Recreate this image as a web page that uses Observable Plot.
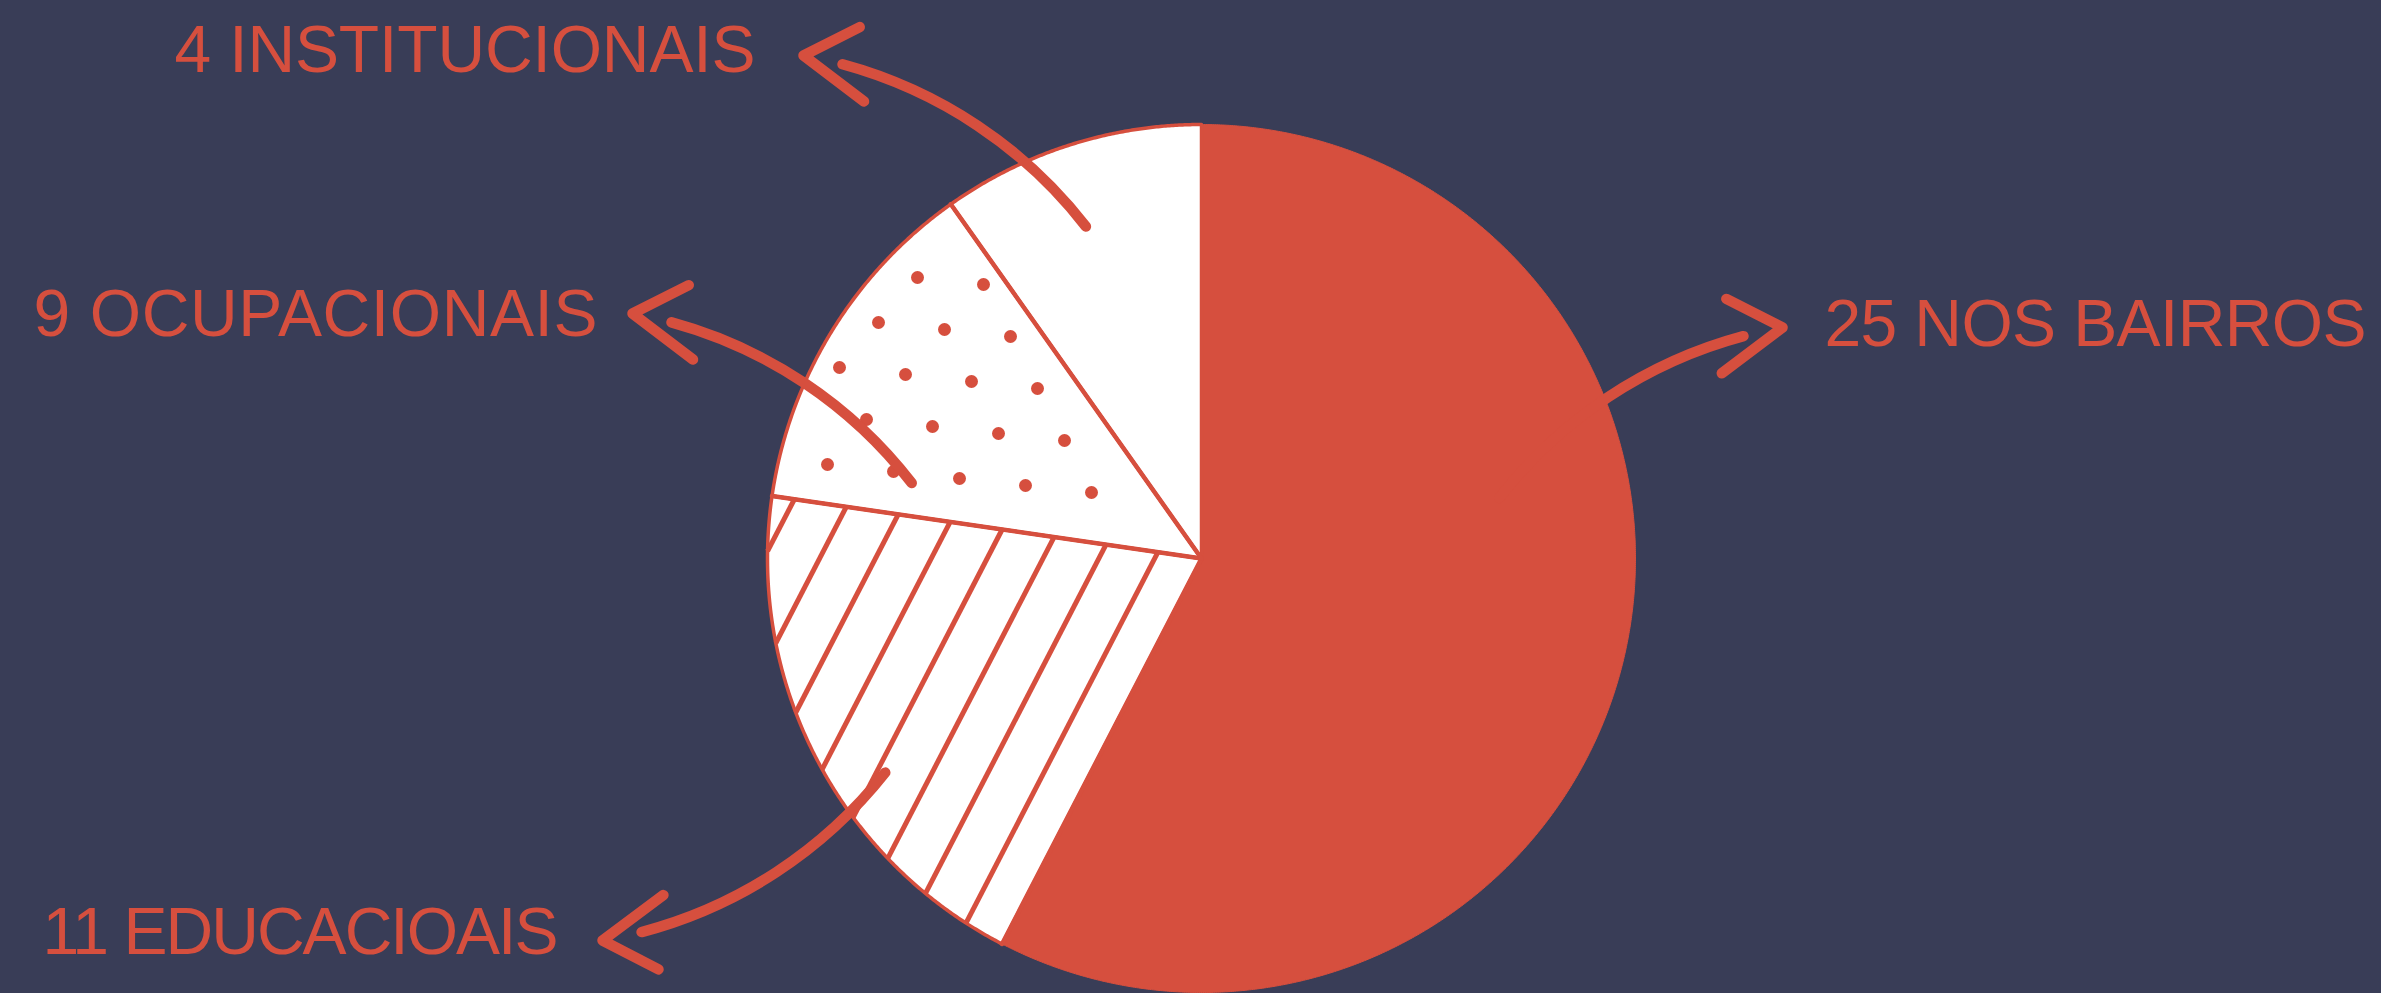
<!DOCTYPE html>
<html>
<head>
<meta charset="utf-8">
<script src="https://cdn.jsdelivr.net/npm/d3@7"></script>
<script src="https://cdn.jsdelivr.net/npm/@observablehq/plot@0.6"></script>
<style>
  html, body { margin: 0; padding: 0; background: #393D57; overflow: hidden; }
  #chart svg { display: block; }
</style>
</head>
<body>
<div id="chart"></div>
<script>
// ---------------- data ----------------
const categories = ["NOS BAIRROS", "EDUCACIOAIS", "OCUPACIONAIS", "INSTITUCIONAIS"];
const counts = [25, 11, 9, 4];
// share of the disc each slice takes in the drawing (%)
const shares = [57.6, 19.7, 12.9, 9.8];

// ---------------- layout & style ----------------
const W = 2381, H = 993;
const RED = "#D64F3E", BG = "#393D57", WHITE = "#FFFFFF";
const pie = {cx: 1201, cy: 558, r: 434};
const labelPos = [
  {x: 1824, y: 345, w: 542},
  {x: 42, y: 953, w: 516},
  {x: 33, y: 335, w: 564},
  {x: 174, y: 71, w: 581}
];
const arrowPos = [
  {tailAngle: 78.5, tailR: 0.70, tip: [1782, 327], bend: 21},
  {tailAngle: 235.9, tailR: 0.88, tip: [602, 940], bend: 21},
  {tailAngle: 284.6, tailR: 0.69, tip: [632, 313], bend: -21},
  {tailAngle: 340.8, tailR: 0.81, tip: [803, 55], bend: -21}
];
const headTurn = 26, wingHalf = 32, wingLong = 76, wingShort = 63, headGap = 40;
const stripeStart = 41.6, stripeGap = 49.6;
const dotOrigin = [-374, -94], dotA = [66, 7], dotB = [27, 52];

// ---------------- geometry ----------------
const R = pie.r;
const dir = a => [Math.sin(a), -Math.cos(a)];
const dot2 = (p, q) => p[0] * q[0] + p[1] * q[1];
const arcs = d3.pie().sort(null).value(d => d)(shares);

const slices = arcs.map((a, i) => {
  const pts = [{x: pie.cx, y: pie.cy}];
  const n = Math.ceil((a.endAngle - a.startAngle) / (Math.PI / 720));
  for (let j = 0; j <= n; ++j) {
    const t = a.startAngle + (a.endAngle - a.startAngle) * j / n;
    const [dx, dy] = dir(t);
    pts.push({x: pie.cx + R * dx, y: pie.cy + R * dy});
  }
  pts.push({x: pie.cx, y: pie.cy});
  return pts;
});
const radials = [];
for (let i = 1; i < 4; ++i) {
  const [dx, dy] = dir(arcs[i].startAngle);
  radials.push({x1: pie.cx, y1: pie.cy, x2: pie.cx + R * dx, y2: pie.cy + R * dy});
}

// stripes in the "educacionais" slice, parallel to its first edge
const stripes = [];
{
  const a0 = arcs[1].startAngle, a1 = arcs[1].endAngle;
  const u = dir(a0), n = dir(a0 + Math.PI / 2), n1 = dir(a1 - Math.PI / 2);
  for (let d = stripeStart; d < R; d += stripeGap) {
    const s = Math.sqrt(R * R - d * d);
    let t0 = -s, t1 = s;
    const un = dot2(u, n1), nn = dot2(n, n1);
    if (un > 0) t0 = Math.max(t0, -d * nn / un); else if (un < 0) t1 = Math.min(t1, -d * nn / un);
    if (t1 <= t0) continue;
    stripes.push({
      x1: pie.cx + d * n[0] + t0 * u[0], y1: pie.cy + d * n[1] + t0 * u[1],
      x2: pie.cx + d * n[0] + t1 * u[0], y2: pie.cy + d * n[1] + t1 * u[1]
    });
  }
}

// dots in the "ocupacionais" slice
const dots = [];
{
  const b0 = arcs[2].startAngle, b1 = arcs[2].endAngle;
  const nLow = dir(b0 + Math.PI / 2), nTop = dir(b1 - Math.PI / 2);
  for (let i = -8; i <= 4; ++i) for (let k = -4; k <= 10; ++k) {
    const p = [dotOrigin[0] + k * dotA[0] + i * dotB[0], dotOrigin[1] + k * dotA[1] + i * dotB[1]];
    if (Math.hypot(p[0], p[1]) > R - 20) continue;
    if (dot2(p, nLow) < 16 || dot2(p, nTop) < 16) continue;
    dots.push({x: pie.cx + p[0], y: pie.cy + p[1]});
  }
}

// arrows
const arrows = arrowPos.map((a, i) => {
  const [dx, dy] = dir(a.tailAngle * Math.PI / 180);
  const x1 = pie.cx + a.tailR * R * dx, y1 = pie.cy + a.tailR * R * dy;
  const [x2, y2] = a.tip;
  return {i, x1, y1, x2, y2, bend: a.bend};
});
const chevrons = [];
arrows.forEach(a => {
  const sign = Math.sign(a.bend);
  const chord = Math.atan2(a.y2 - a.y1, a.x2 - a.x1) * 180 / Math.PI;
  const back = chord + sign * headTurn + 180;
  const arm = s => {
    const ang = (back + s * wingHalf) * Math.PI / 180;
    const L = s === -sign ? wingLong : wingShort;
    return {id: a.i, x: a.x2 + L * Math.cos(ang), y: a.y2 + L * Math.sin(ang)};
  };
  chevrons.push(arm(1), {id: a.i, x: a.x2, y: a.y2}, arm(-1));
});

const labels = categories.map((c, i) => ({text: `${counts[i]} ${c}`, x: labelPos[i].x, y: labelPos[i].y, w: labelPos[i].w}));

// ---------------- plot ----------------
const marks = [];
marks.push(Plot.line(slices[0], {x: "x", y: "y", fill: RED, stroke: RED, strokeWidth: 1}));
for (let i = 1; i < 4; ++i) marks.push(Plot.line(slices[i], {x: "x", y: "y", fill: WHITE, stroke: "none"}));
marks.push(Plot.link(stripes, {x1: "x1", y1: "y1", x2: "x2", y2: "y2", stroke: RED, strokeWidth: 5, strokeLinecap: "butt"}));
marks.push(Plot.dot(dots, {x: "x", y: "y", r: 6.5, fill: RED, stroke: "none"}));
for (let i = 1; i < 4; ++i) marks.push(Plot.line(slices[i], {x: "x", y: "y", stroke: RED, strokeWidth: 3.5, strokeLinejoin: "round"}));
marks.push(Plot.link(radials, {x1: "x1", y1: "y1", x2: "x2", y2: "y2", stroke: RED, strokeWidth: 4.5, strokeLinecap: "round"}));
arrows.forEach(a => {
  marks.push(Plot.arrow([a], {
    x1: "x1", y1: "y1", x2: "x2", y2: "y2", bend: a.bend,
    headLength: 0, insetEnd: headGap, stroke: RED, strokeWidth: 10.5,
    strokeLinecap: "round", strokeLinejoin: "round"
  }));
});
marks.push(Plot.line(chevrons, {x: "x", y: "y", z: "id", stroke: RED, strokeWidth: 10.5, strokeLinecap: "round", strokeLinejoin: "round"}));
marks.push(Plot.text(labels, {
  x: "x", y: "y", text: "text", fill: RED, fontSize: 66, fontFamily: "Liberation Sans, Arial, sans-serif",
  textAnchor: "start", lineAnchor: "bottom"
}));

const chart = Plot.plot({
  width: W, height: H,
  margin: 0,
  style: {background: "transparent", overflow: "visible"},
  x: {domain: [0, W], range: [0, W], axis: null},
  y: {domain: [0, H], range: [0, H], axis: null},
  marks
});
document.getElementById("chart").appendChild(chart);
// fit each label to the width it takes in the picture
chart.querySelectorAll("text").forEach(el => {
  const lab = labels.find(l => l.text === el.textContent.trim());
  if (!lab) return;
  el.setAttribute("textLength", lab.w);
  el.setAttribute("lengthAdjust", "spacing");
});
</script>
</body>
</html>
